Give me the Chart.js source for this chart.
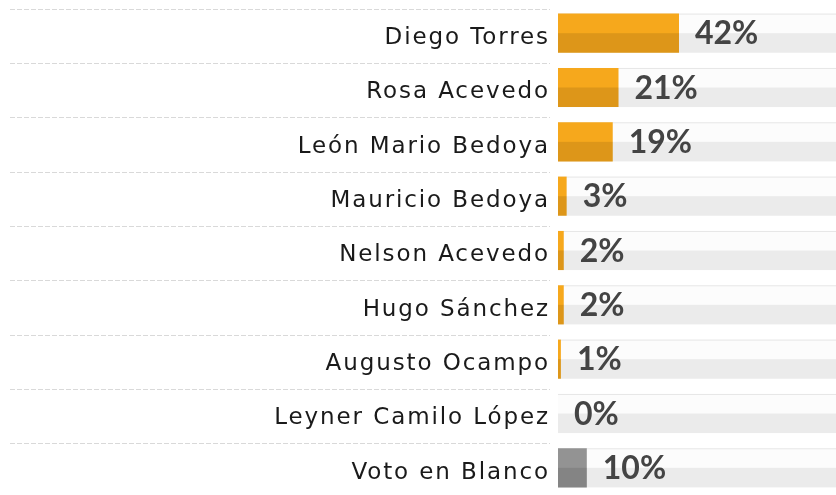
<!DOCTYPE html>
<html><head><meta charset="utf-8">
<script src="https://cdn.jsdelivr.net/npm/chart.js@4/dist/chart.umd.min.js"></script>
<style>html,body{margin:0;padding:0;background:#fff;overflow:hidden}#wrap{width:836px;height:495px;position:relative}</style>
</head><body><div id="wrap"><canvas id="c"></canvas></div>
<script>
const categories = ['Diego Torres','Rosa Acevedo','León Mario Bedoya','Mauricio Bedoya','Nelson Acevedo','Hugo Sánchez','Augusto Ocampo','Leyner Camilo López','Voto en Blanco'];
const values = [42, 21, 19, 3, 2, 2, 1, 0, 10];
const valueLabels = ['42%','21%','19%','3%','2%','2%','1%','0%','10%'];
const barColors = ['#F6A81C','#F6A81C','#F6A81C','#F6A81C','#F6A81C','#F6A81C','#F6A81C','#F6A81C','#939393'];
const xMax = 96.5;

const TICK_FONT = '"DejaVu Sans", sans-serif';
const VALUE_FONT = 'Lato, "DejaVu Sans", sans-serif';

const decor = {
  id: 'decor',
  beforeDraw(chart) {
    chart.ctx.letterSpacing = '1.9px';
  },
  beforeDatasetsDraw(chart) {
    const ctx = chart.ctx, ca = chart.chartArea;
    const ys = chart.scales.y;
    const band = ys.getPixelForValue(1) - ys.getPixelForValue(0);
    const meta = chart.getDatasetMeta(0);
    ctx.save();
    meta.data.forEach((el) => {
      const p = el.getProps(['y','height'], true);
      const top = p.y - p.height / 2, h = p.height;
      ctx.fillStyle = '#fcfcfc';
      ctx.fillRect(ca.left, top, ca.right - ca.left, h / 2);
      ctx.fillStyle = '#ebebeb';
      ctx.fillRect(ca.left, top + h / 2, ca.right - ca.left, h / 2);
      ctx.fillStyle = '#e6e6e6';
      ctx.fillRect(ca.left, top, ca.right - ca.left, 1);
      const yy = Math.round(p.y - band * 0.45) + 0.5;
      ctx.strokeStyle = '#d9d9d9';
      ctx.lineWidth = 1;
      ctx.setLineDash([5, 2]);
      ctx.beginPath();
      ctx.moveTo(10, yy);
      ctx.lineTo(ca.left - 8, yy);
      ctx.stroke();
      ctx.setLineDash([]);
    });
    ctx.restore();
  },
  afterDatasetsDraw(chart) {
    const ctx = chart.ctx;
    const meta = chart.getDatasetMeta(0);
    ctx.save();
    ctx.letterSpacing = '0px';
    meta.data.forEach((el, i) => {
      const p = el.getProps(['x','y','base','height'], true);
      const h = p.height;
      if (p.x > p.base) {
        ctx.fillStyle = 'rgba(0,0,0,0.1)';
        ctx.fillRect(p.base, p.y, p.x - p.base, h / 2);
      }
      ctx.fillStyle = '#444444';
      ctx.font = 'bold 32px ' + VALUE_FONT;
      ctx.textBaseline = 'middle';
      ctx.textAlign = 'left';
      ctx.fillText(valueLabels[i], p.x + 16, p.y + 1);
    });
    ctx.restore();
  }
};

new Chart(document.getElementById('c'), {
  type: 'bar',
  data: {
    labels: categories,
    datasets: [{
      data: values,
      backgroundColor: barColors,
      borderWidth: 0,
      categoryPercentage: 1,
      barPercentage: 0.72
    }]
  },
  options: {
    indexAxis: 'y',
    responsive: true,
    maintainAspectRatio: false,
    animation: false,
    layout: { padding: { top: 6, bottom: 0, left: 0, right: 0 } },
    plugins: { legend: { display: false }, tooltip: { enabled: false } },
    scales: {
      x: { display: false, min: 0, max: xMax },
      y: {
        grid: { display: false, drawTicks: false },
        border: { display: false },
        ticks: { padding: 8, labelOffset: 5, color: '#1a1a1a', font: { family: TICK_FONT, size: 23 } },
        afterFit(scale) { scale.width = 558; scale.paddingTop = 0; scale.paddingBottom = 0; }
      }
    }
  },
  plugins: [decor]
});
</script>
</body></html>
